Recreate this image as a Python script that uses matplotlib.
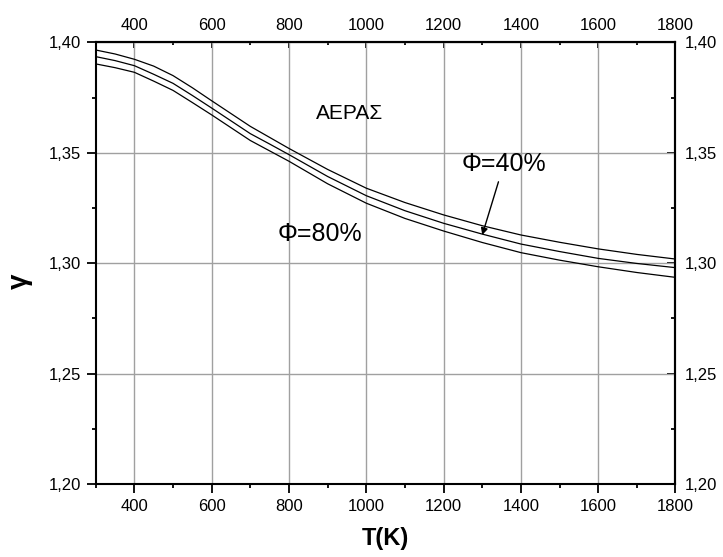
import numpy as np
import matplotlib
matplotlib.use("Agg")
import matplotlib.pyplot as plt
from matplotlib.ticker import MultipleLocator, FuncFormatter

plt.rcParams['font.family'] = ['Liberation Sans', 'DejaVu Sans']

# ---- data ----
T = [300, 350, 400, 450, 500, 550, 600, 650, 700, 750, 800, 900, 1000,
     1100, 1200, 1300, 1400, 1500, 1600, 1700, 1800]
gamma_top = [1.3966, 1.3948, 1.3924, 1.3893, 1.3850, 1.3795, 1.3736, 1.3678,
             1.3620, 1.3570, 1.3520, 1.3425, 1.3340, 1.3275, 1.3219, 1.3170,
             1.3128, 1.3095, 1.3065, 1.3040, 1.3019]
gamma_phi40 = [1.3936, 1.3918, 1.3895, 1.3856, 1.3815, 1.3760, 1.3703, 1.3645,
               1.3587, 1.3540, 1.3492, 1.3393, 1.3306, 1.3238, 1.3181, 1.3132,
               1.3087, 1.3053, 1.3022, 1.2999, 1.2980]
gamma_phi80 = [1.3903, 1.3886, 1.3865, 1.3825, 1.3783, 1.3728, 1.3672, 1.3614,
               1.3556, 1.3509, 1.3462, 1.3360, 1.3272, 1.3203, 1.3146, 1.3094,
               1.3048, 1.3014, 1.2984, 1.2958, 1.2936]

x_major = [400, 600, 800, 1000, 1200, 1400, 1600, 1800]
y_major = [1.20, 1.25, 1.30, 1.35, 1.40]

comma = FuncFormatter(lambda v, p: f"{v:.2f}".replace(".", ","))

fig = plt.figure(figsize=(7.23, 5.57), dpi=100)
ax = fig.add_axes([0.1324, 0.1311, 0.8019, 0.7926])

for g in (gamma_top, gamma_phi40, gamma_phi80):
    ax.plot(T, g, color="black", lw=0.9, solid_joinstyle="round")

ax.set_xlim(300, 1800)
ax.set_ylim(1.20, 1.40)
ax.set_xticks(x_major)
ax.set_yticks(y_major)
ax.xaxis.set_minor_locator(MultipleLocator(100))
ax.yaxis.set_minor_locator(MultipleLocator(0.025))
ax.yaxis.set_major_formatter(comma)
ax.grid(True, which="major", color="#a0a0a0", lw=1.0)
ax.set_axisbelow(True)

ax.tick_params(which="major", direction="out", length=6.5, width=1.3, labelsize=12, pad=4)
ax.tick_params(which="minor", direction="out", length=3, width=1.3)
for s in ax.spines.values():
    s.set_linewidth(1.5)

# top / right axes with inward ticks
sx = ax.secondary_xaxis("top")
sx.set_xticks(x_major)
sx.xaxis.set_minor_locator(MultipleLocator(100))
sx.tick_params(which="major", direction="in", length=4.5, width=1.3, labelsize=12, pad=7)
sx.tick_params(which="minor", direction="in", length=2.5, width=1.3)
sx.spines["top"].set_linewidth(1.5)

sy = ax.secondary_yaxis("right")
sy.set_yticks(y_major)
sy.yaxis.set_minor_locator(MultipleLocator(0.025))
sy.yaxis.set_major_formatter(comma)
sy.tick_params(which="major", direction="in", length=5.5, width=1.3, labelsize=12, pad=7)
sy.tick_params(which="minor", direction="in", length=3, width=1.3)
sy.spines["right"].set_linewidth(1.5)

ax.set_xlabel("T(K)", fontsize=17, fontweight="bold", labelpad=10)
ax.set_ylabel("γ", fontsize=20, fontweight="bold")
ax.yaxis.set_label_coords(-0.108, 0.46)

ax.text(958, 1.3677, "ΑΕΡΑΣ", fontsize=15, ha="center", va="center")
ax.text(880, 1.3133, "Φ=80%", fontsize=18, ha="center", va="center")
ax.text(1355, 1.345, "Φ=40%", fontsize=18, ha="center", va="center")
ax.annotate("", xy=(1300, 1.3128), xytext=(1342, 1.3369),
            arrowprops=dict(arrowstyle="-|>", color="black", lw=1.0,
                            mutation_scale=10, shrinkA=0, shrinkB=0))

fig.savefig("out.png", dpi=100)
